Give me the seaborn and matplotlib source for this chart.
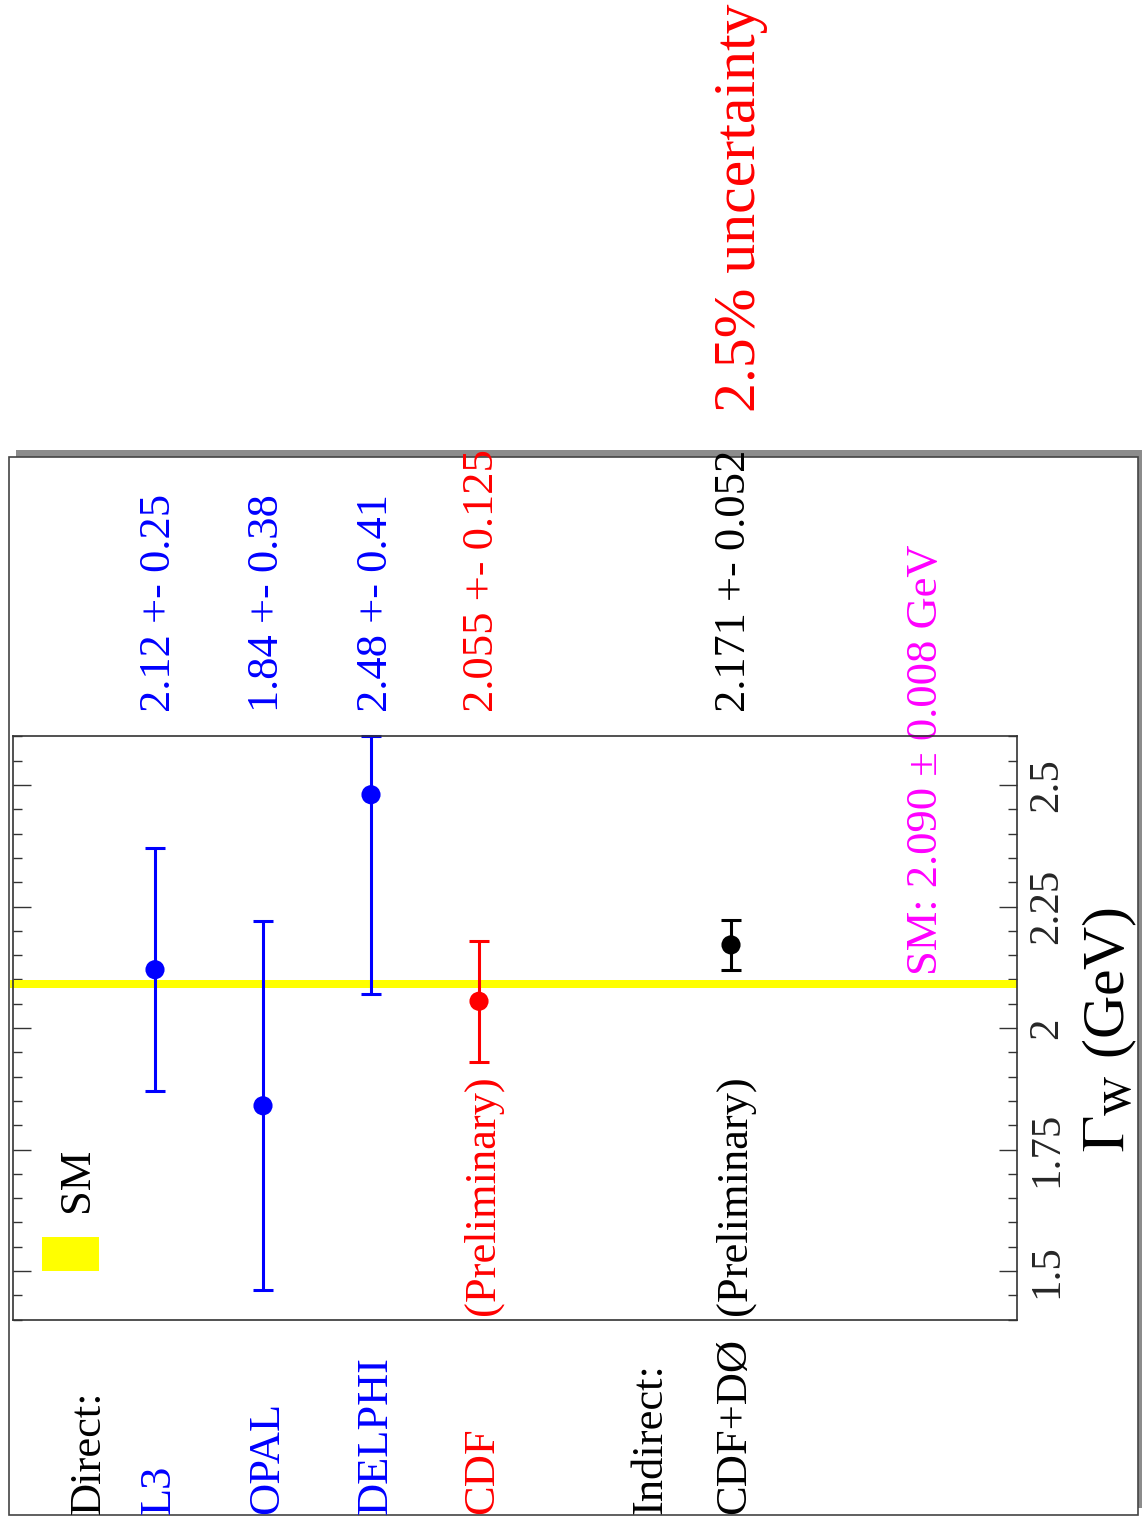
import numpy as np
import pandas as pd
import matplotlib
matplotlib.use("Agg")
import matplotlib.pyplot as plt
import seaborn as sns
from matplotlib.patches import Rectangle

# ---------------- data ----------------
experiments = ["L3", "OPAL", "DELPHI", "CDF", "CDF+DØ"]
width_values = [2.12, 1.84, 2.48, 2.055, 2.171]
width_errors = [0.25, 0.38, 0.41, 0.125, 0.052]
value_labels = ["2.12 +- 0.25", "1.84 +- 0.38", "2.48 +- 0.41",
                "2.055 +- 0.125", "2.171 +- 0.052"]
exp_colors = ["#0000ff", "#0000ff", "#0000ff", "#ff0000", "#000000"]
prelim_flags = [False, False, False, True, True]
sm_value = 2.090
sm_error = 0.008
sm_label = "SM: 2.090 ± 0.008 GeV"
tick_values = [1.5, 1.75, 2.0, 2.25, 2.5]
tick_labels = ["1.5", "1.75", "2", "2.25", "2.5"]
axis_title = r"$\Gamma_{\mathrm{W}}$ (GeV)"
note_text = "2.5% uncertainty"
group_labels = ["Direct:", "Indirect:"]

df = pd.DataFrame({"experiment": experiments, "value": width_values,
                   "error": width_errors})

# ---------------- layout ----------------
W, H = 1142, 1527
DPI = 100
row_centers = [155, 263, 371, 479, 731]      # horizontal pixel centres of rows
label_baselines = [170, 278, 387, 493, 745]  # baseline x of rotated labels
group_baselines = [100, 661]
ax_left, ax_right = 13, 1017
ax_top, ax_bottom = 736.4, 1319.6
y_lo, y_hi = 1.4, 2.6

sns.set_theme(style="white")
plt.rcParams["font.family"] = ["Liberation Serif", "DejaVu Serif"]
plt.rcParams["mathtext.fontset"] = "stix"

fig = plt.figure(figsize=(W / DPI, H / DPI), dpi=DPI)
fig.patch.set_facecolor("white")

# overlay in pixel coordinates
ov = fig.add_axes([0, 0, 1, 1], zorder=0)
ov.set_xlim(0, W)
ov.set_ylim(H, 0)
ov.axis("off")

# outer pad frame with shadow
ov.add_patch(Rectangle((15.5, 450), 1130, 1058, facecolor="#8c8c8c",
                       edgecolor="none", zorder=0))
ov.add_patch(Rectangle((8.5, 457), 1129, 1058, facecolor="white",
                       edgecolor="#444444", lw=1.2, zorder=1))

# data axes
ax = fig.add_axes([ax_left / W, (H - ax_bottom) / H,
                   (ax_right - ax_left) / W, (ax_bottom - ax_top) / H],
                  zorder=2)
ax.set_facecolor("none")
ax.set_xlim(ax_left, ax_right)
ax.set_ylim(y_lo, y_hi)

# SM band
ax.fill_between([10, ax_right], sm_value - sm_error, sm_value + sm_error,
                color="#ffff00", lw=0, clip_on=False, zorder=1)

# error bars (clipped at the frame like ROOT does)
for xc, v, e, c in zip(row_centers, width_values, width_errors, exp_colors):
    lo = e
    hi = min(v + e, y_hi) - v
    ax.errorbar([xc], [v], yerr=[[lo], [hi]], fmt="none", ecolor=c,
                elinewidth=2.2, capsize=7, capthick=2.2, clip_on=False,
                zorder=2)

sns.scatterplot(x=row_centers, y=df["value"], hue=df["experiment"],
                palette=dict(zip(experiments, exp_colors)), s=190,
                linewidth=0, legend=False, ax=ax, zorder=3, clip_on=False)

for sp in ax.spines.values():
    sp.set_color("#333333")
    sp.set_linewidth(1.2)

ax.set_xticks([])
ax.set_yticks(tick_values)
ax.set_yticks(np.arange(y_lo, y_hi + 1e-9, 0.05), minor=True)
ax.tick_params(axis="y", which="both", direction="in", left=True, right=True,
               labelleft=False, labelright=True, color="#333333", width=1.0)
ax.tick_params(axis="y", which="major", length=13, pad=8)
ax.tick_params(axis="y", which="minor", length=6.5)
ax.set_yticklabels(tick_labels, rotation=90, va="center", ha="left",
                   fontsize=31)
ax.set_xlabel("")
ax.set_ylabel("")


def vtext(x, y, s, size, color="black", **kw):
    ov.text(x, y, s, rotation=90, rotation_mode="anchor", ha="left",
            va="baseline", fontsize=size, color=color, zorder=3, **kw)


FS = 32
# group headers
for gx, g in zip(group_baselines, group_labels):
    vtext(gx, 1514, g, FS)
# experiment names, values, preliminary tags
for bx, name, val, c, pre in zip(label_baselines, experiments, value_labels,
                                 exp_colors, prelim_flags):
    vtext(bx, 1514, name, FS, c)
    vtext(bx, 712, val, FS, c)
    if pre:
        vtext(bx + 1, 1315, "(Preliminary)", FS, c)

# SM text
vtext(937, 975, sm_label, FS, "#ff00ff")
# note
vtext(755, 412, note_text, 43, "#ff0000")
# legend
ov.add_patch(Rectangle((42, 1237), 57, 34, facecolor="#ffff00",
                       edgecolor="none", zorder=2))
vtext(88, 1212, "SM", FS)
# axis title
vtext(1124, 1152, axis_title, 43)

fig.savefig("out.png", dpi=DPI)
